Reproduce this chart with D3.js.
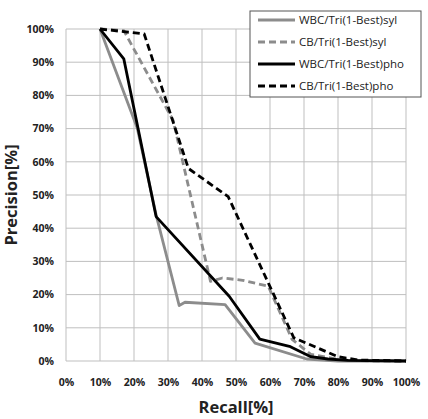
<!doctype html>
<html>
<head>
<meta charset="utf-8">
<title>Precision / Recall</title>
<script src="https://d3js.org/d3.v7.min.js"></script>
<style>
  body { margin: 0; background: #fff; }
  text { font-family: "Open Sans", "DejaVu Sans", sans-serif; }
</style>
</head>
<body>
<svg id="chart" width="428" height="419"></svg>
<script>
// data (recall %, precision %)
const wbcSylRecall    = [10, 21, 26.5, 33.3, 35, 46.8, 55.6, 70.8, 80, 100];
const wbcSylPrecision = [100, 70, 44, 16.7, 17.7, 17, 5.4, 0.6, 0, 0];

const cbSylRecall     = [10, 17, 31.5, 42.5, 46, 52, 59.5, 66.5, 72, 80, 90, 100];
const cbSylPrecision  = [100, 99.5, 72.5, 24, 25, 24.3, 22.5, 6.5, 2, 0.5, 0, 0];

const wbcPhoRecall    = [10, 17, 26.5, 48, 57, 66, 72, 77, 83, 100];
const wbcPhoPrecision = [100, 91, 43.5, 19.5, 6.6, 4.3, 1.3, 0.6, 0.2, 0];

const cbPhoRecall     = [10, 23, 36, 47.7, 67, 80, 86, 100];
const cbPhoPrecision  = [100, 98.5, 58, 49.5, 7, 1.3, 0.3, 0];

const seriesNames = ["WBC/Tri(1-Best)syl", "CB/Tri(1-Best)syl", "WBC/Tri(1-Best)pho", "CB/Tri(1-Best)pho"];
const tickValues = [0, 10, 20, 30, 40, 50, 60, 70, 80, 90, 100];

const series = [
  {name: seriesNames[0], r: wbcSylRecall, p: wbcSylPrecision, color: "#8c8c8c", dash: null},
  {name: seriesNames[1], r: cbSylRecall,  p: cbSylPrecision,  color: "#8c8c8c", dash: "7,4"},
  {name: seriesNames[2], r: wbcPhoRecall, p: wbcPhoPrecision, color: "#000",    dash: null},
  {name: seriesNames[3], r: cbPhoRecall,  p: cbPhoPrecision,  color: "#000",    dash: "7,4"}
];

const svg = d3.select("#chart");
const margin = {top: 29, right: 22, bottom: 58, left: 66};
const width = 428 - margin.left - margin.right,
      height = 419 - margin.top - margin.bottom;

const g = svg.append("g")
  .attr("transform", `translate(${margin.left},${margin.top})`);

const x = d3.scaleLinear().domain([0, 100]).range([0, width]);
const y = d3.scaleLinear().domain([0, 100]).range([height, 0]);

// grid
g.append("g").selectAll("line")
  .data(tickValues)
  .join("line")
    .attr("x1", d => x(d)).attr("x2", d => x(d))
    .attr("y1", 0).attr("y2", height)
    .attr("stroke", "#bfbfbf").attr("stroke-width", 1);
g.append("g").selectAll("line")
  .data(tickValues)
  .join("line")
    .attr("x1", 0).attr("x2", width)
    .attr("y1", d => y(d)).attr("y2", d => y(d))
    .attr("stroke", "#bfbfbf").attr("stroke-width", 1);

// axes (labels only)
const xAxis = g.append("g")
  .attr("transform", `translate(0,${height})`)
  .call(d3.axisBottom(x).tickValues(tickValues).tickSize(0).tickPadding(18).tickFormat(d => d + "%"));
const yAxis = g.append("g")
  .call(d3.axisLeft(y).tickValues(tickValues).tickSize(0).tickPadding(12).tickFormat(d => d + "%"));
[xAxis, yAxis].forEach(a => {
  a.select(".domain").remove();
  a.selectAll("text")
    .style("font-family", "'Open Sans', sans-serif")
    .style("font-size", "10.5px")
    .style("font-weight", "bold")
    .attr("fill", "#222");
});

// lines
const line = d3.line().x(d => x(d[0])).y(d => y(d[1]));
series.forEach(s => {
  const pts = s.r.map((r, i) => [r, s.p[i]]);
  g.append("path")
    .datum(pts)
    .attr("d", line)
    .attr("fill", "none")
    .attr("stroke", s.color)
    .attr("stroke-width", 2.8)
    .attr("stroke-dasharray", s.dash)
    .attr("stroke-linejoin", "round");
});

// axis titles
svg.append("text")
  .attr("x", margin.left + width / 2)
  .attr("y", 413)
  .attr("text-anchor", "middle")
  .style("font-size", "16.5px")
  .style("font-weight", "bold")
  .attr("fill", "#222")
  .text("Recall[%]");

svg.append("text")
  .attr("transform", `translate(17,${margin.top + height / 2}) rotate(-90)`)
  .attr("text-anchor", "middle")
  .style("font-size", "16.5px")
  .style("font-weight", "bold")
  .attr("fill", "#222")
  .text("Precision[%]");

// legend
const legend = svg.append("g").attr("transform", "translate(250,11)");
legend.append("rect")
  .attr("width", 171).attr("height", 86)
  .attr("fill", "#fff")
  .attr("stroke", "#555").attr("stroke-width", 1);
series.forEach((s, i) => {
  const yy = 9 + i * 22;
  legend.append("line")
    .attr("x1", 8).attr("x2", 45)
    .attr("y1", yy).attr("y2", yy)
    .attr("stroke", s.color)
    .attr("stroke-width", 2.8)
    .attr("stroke-dasharray", s.dash);
  legend.append("text")
    .attr("x", 49).attr("y", yy + 4)
    .style("font-size", "11.5px")
    .attr("fill", "#222")
    .text(s.name);
});
</script>
</body>
</html>
